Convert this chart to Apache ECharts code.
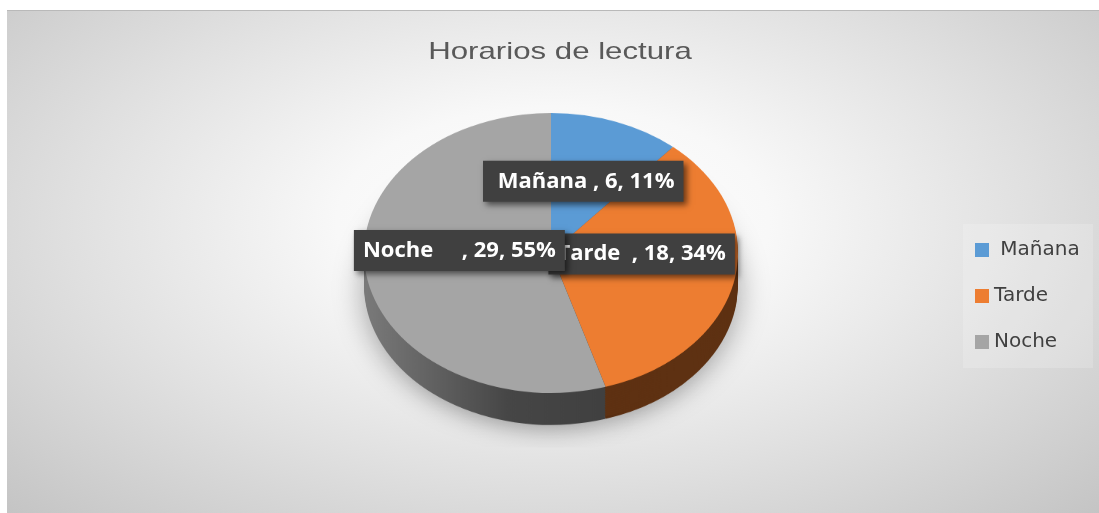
<!DOCTYPE html>
<html>
<head>
<meta charset="utf-8">
<script src="https://cdn.jsdelivr.net/npm/echarts@6/dist/echarts.min.js"></script>
<style>
  html, body { margin: 0; padding: 0; background: #fff; }
  #wrap { position: relative; width: 1099px; height: 513px; overflow: hidden; background: #fff; }
  #bg {
    position: absolute; left: 7px; top: 10px; width: 1092px; height: 503px;
    border-top: 1px solid #b9b9b9;
    background: radial-gradient(ellipse farthest-corner at 50% 42%, #ffffff 0%, #f8f8f8 28%, #e0e0e0 62%, #c4c4c4 100%);
  }
  #pie { position: absolute; left: 0; top: 0; width: 1099px; height: 513px; transform: scaleY(0.7486); transform-origin: 0 253px; }
  #main { position: absolute; left: 0; top: 0; width: 1099px; height: 513px; }
</style>
</head>
<body>
<div id="wrap">
  <div id="bg"></div>
  <div id="pie"></div>
  <div id="main"></div>
</div>
<script>
// datos del grafico
var titleText = 'Horarios de lectura';
var categories = [' Mañana ', 'Tarde  ', 'Noche     '];
var values = [6, 18, 29];

var topColors = ['#5b9bd5', '#ed7d31', '#a5a5a5'];
var sideColors = ['#2f5f8c', '#5e3112', null];

var cx = 551, cy = 253, radius = 187;
var squash = 0.7486;   // inclinacion 3D
var depth = 32 / squash;

function makeData(colorFor) {
    return values.map(function (v, i) {
        return { name: categories[i], value: v, itemStyle: { color: colorFor(i) } };
    });
}

// cara lateral de Noche con degradado
var nocheSide = new echarts.graphic.LinearGradient(0, 0, 1, 0, [
    { offset: 0, color: '#7a7a7a' },
    { offset: 0.6, color: '#464646' },
    { offset: 1, color: '#404040' }
]);

function basePie() {
    return {
        type: 'pie',
        silent: true,
        animation: false,
        startAngle: 90,
        clockwise: true,
        radius: [0, radius],
        label: { show: false },
        labelLine: { show: false },
        itemStyle: { borderWidth: 0 }
    };
}

// capas del lateral (de abajo hacia arriba)
var pieSeries = [];
var layers = 14;
for (var k = layers; k >= 1; k--) {
    var layer = basePie();
    layer.center = [cx, cy + depth * k / layers];
    layer.z = 1;
    layer.data = makeData(function (i) { return sideColors[i] || nocheSide; });
    if (k === layers) {
        layer.itemStyle = { borderWidth: 0, shadowBlur: 30, shadowOffsetY: 6, shadowColor: 'rgba(0,0,0,0.35)' };
    }
    pieSeries.push(layer);
}
var topFace = basePie();
topFace.center = [cx, cy];
topFace.z = 3;
topFace.data = makeData(function (i) { return topColors[i]; });
pieSeries.push(topFace);

var pieChart = echarts.init(document.getElementById('pie'));
pieChart.setOption({ animation: false, series: pieSeries });

// etiquetas: una serie transparente por capa (Noche queda encima)
function labelPie(showFor, z) {
    return {
        type: 'pie',
        silent: true,
        z: z,
        startAngle: 90,
        clockwise: true,
        center: [cx, cy],
        radius: [0, radius],
        percentPrecision: 0,
        itemStyle: { color: 'rgba(0,0,0,0)', borderWidth: 0 },
        labelLine: { show: false },
        label: {
            show: true,
            position: 'inside',
            formatter: '{b}, {c}, {d}%',
            color: '#ffffff',
            fontFamily: '"Open Sans", sans-serif',
            fontWeight: 'bold',
            fontSize: 22,
            lineHeight: 24,
            backgroundColor: '#404040',
            padding: [9, 9, 8, 9],
            shadowBlur: 6,
            shadowColor: 'rgba(0,0,0,0.55)',
            shadowOffsetX: 3,
            shadowOffsetY: 3
        },
        labelLayout: function (p) {
            var r = p.labelRect;
            var lx = r.x + r.width / 2;
            var ly = r.y + r.height / 2;
            return {
                x: cx + (lx - cx) * 0.96,
                y: cy + (ly - cy) * 0.66 - 12,
                align: 'center',
                verticalAlign: 'middle'
            };
        },
        data: values.map(function (v, i) {
            return { name: categories[i], value: v, label: { show: showFor(i) } };
        })
    };
}

// titulo, leyenda y etiquetas
var chart = echarts.init(document.getElementById('main'));
chart.setOption({
    animation: false,
    graphic: [{
        type: 'text',
        x: 560,
        y: 40,
        scaleX: 1.3,
        silent: true,
        style: {
            text: titleText,
            align: 'center',
            verticalAlign: 'top',
            fill: '#595959',
            font: '24px "Liberation Sans", Arial, sans-serif'
        }
    }],
    legend: {
        orient: 'vertical',
        left: 963,
        top: 224,
        padding: [16, 4, 16, 12],
        backgroundColor: 'rgba(255,255,255,0.18)',
        itemWidth: 14,
        itemHeight: 14,
        itemGap: 26,
        icon: 'rect',
        selectedMode: false,
        textStyle: {
            color: '#404040',
            fontFamily: 'DejaVu Sans',
            fontSize: 20,
            lineHeight: 20
        },
        data: categories.map(function (c, i) {
            return { name: c, itemStyle: { color: topColors[i] } };
        })
    },
    series: [
        labelPie(function (i) { return i < 2; }, 2),
        labelPie(function (i) { return i === 2; }, 4)
    ]
});
</script>
</body>
</html>
